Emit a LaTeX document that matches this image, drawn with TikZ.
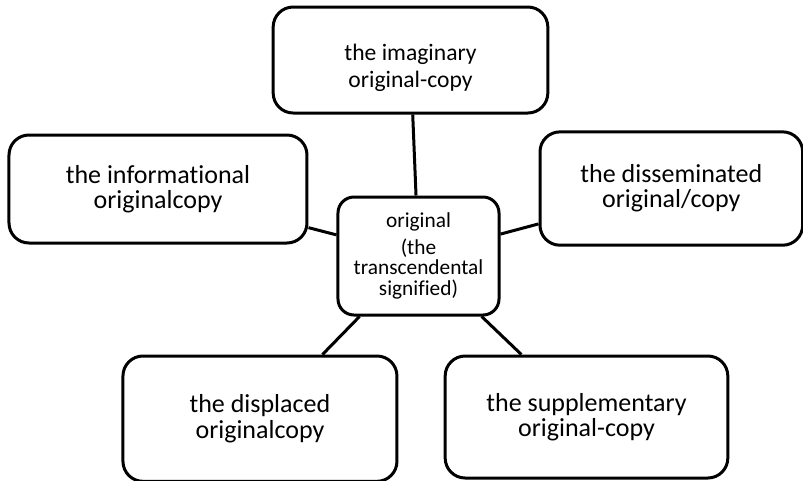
\documentclass[tikz,border=0pt]{standalone}
\usepackage{fontspec}
\setmainfont[Ligatures=NoCommon]{Carlito}
\usetikzlibrary{positioning}

\begin{document}
\begin{tikzpicture}
            % Styles
            \tikzstyle{copybox}=[draw, rectangle, rounded corners=15pt, line width=2.25pt, fill=white, text centered, align=center, font=\fontsize{19.5}{19}\selectfont]
            \tikzstyle{topbox}=[copybox, font=\fontsize{17.7}{20.5}\selectfont]
            \tikzstyle{centrebox}=[copybox, rounded corners=12pt, font=\fontsize{16}{15.6}\selectfont]
            \tikzstyle{link}=[line width=2.25pt]

            \useasboundingbox (-313.875pt,-168pt) rectangle (288.375pt,192pt);

            % Nodes
            \node[centrebox, minimum width=120.75pt, minimum height=88.5pt] (original) {original\\[4.5pt](the\\transcendental\\signified)};

            \node[topbox, minimum width=206pt, minimum height=79.5pt, above=60.75pt of original, xshift=-6pt] (imaginary) {\rule{0pt}{24pt}the imaginary\\original-copy};
            \node[copybox, minimum width=223.5pt, minimum height=81pt, left=21pt of original, yshift=50.25pt] (informational) {the informational\\originalcopy};
            \node[copybox, minimum width=197pt, minimum height=85pt, right=28.5pt of original, yshift=50.6pt] (disseminated) {the disseminated\\original/copy};
            \node[copybox, minimum width=205.5pt, minimum height=94pt, below=28.5pt of original, xshift=-118.9pt] (displaced) {the displaced\\originalcopy};
            \node[copybox, minimum width=212pt, minimum height=91.5pt, below=28.5pt of original, xshift=126pt] (supplementary) {the supplementary\\original-copy};

            % Lines
            \draw[link] (original) -- (imaginary);
            \draw[link] (original) -- (informational);
            \draw[link] (original) -- (disseminated);
            \draw[link] (original) -- (displaced);
            \draw[link] (original) -- (supplementary);
\end{tikzpicture}
\end{document}
